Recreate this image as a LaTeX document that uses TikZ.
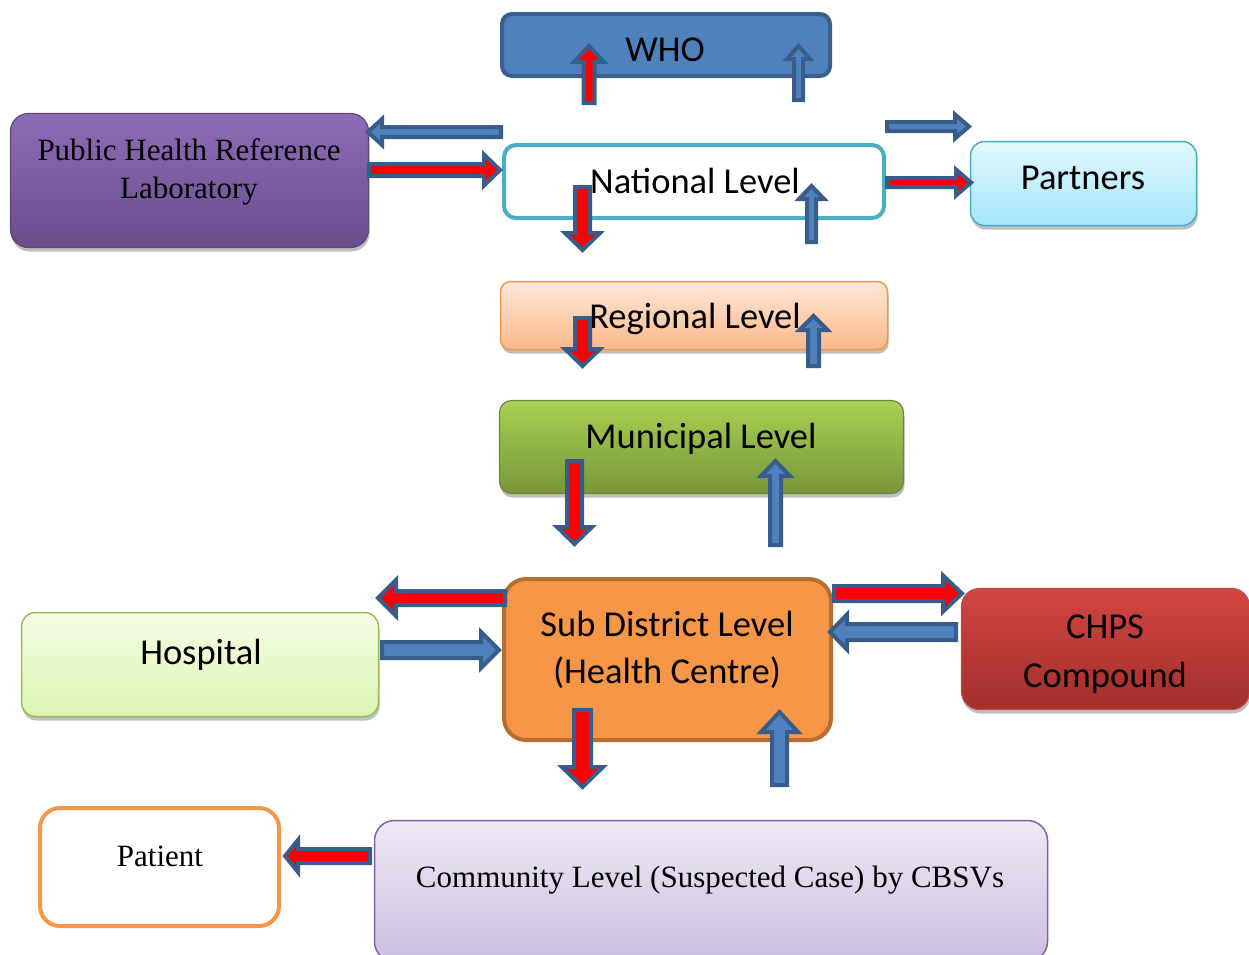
\documentclass[tikz,border=0pt]{standalone}
\usepackage{fontspec}
\setmainfont{Liberation Serif}
\newfontfamily\carl{Carlito}
\usetikzlibrary{calc,shadows}
\definecolor{arrowdark}{HTML}{385D8A}
\definecolor{arrowblue}{HTML}{4F81BD}
\definecolor{arrowred}{HTML}{FF0000}
\definecolor{whofill}{HTML}{4F81BD}
\definecolor{whoborder}{HTML}{3A5F8C}
\definecolor{purpletop}{HTML}{8D6DB8}
\definecolor{purplebot}{HTML}{6A4C8C}
\definecolor{purpleborder}{HTML}{5C4677}
\definecolor{natborder}{HTML}{4BACC6}
\definecolor{parttop}{HTML}{E2F8FD}
\definecolor{partbot}{HTML}{A3E7FA}
\definecolor{regtop}{HTML}{FFE7D8}
\definecolor{regbot}{HTML}{FBB98A}
\definecolor{orangeb}{HTML}{F79646}
\definecolor{muntop}{HTML}{A9D152}
\definecolor{munbot}{HTML}{77963A}
\definecolor{munborder}{HTML}{6E873C}
\definecolor{subborder}{HTML}{B66D31}
\definecolor{hosptop}{HTML}{F4FDE6}
\definecolor{hospbot}{HTML}{DBF4AF}
\definecolor{hospborder}{HTML}{9BBB59}
\definecolor{chpstop}{HTML}{D24541}
\definecolor{chpsbot}{HTML}{A12F2C}
\definecolor{chpsborder}{HTML}{BE4B48}
\definecolor{comtop}{HTML}{EEE9F5}
\definecolor{combot}{HTML}{CBBFE0}
\definecolor{comborder}{HTML}{8064A2}
\tikzset{
  box/.style={rounded corners=#1, inner sep=0pt, outer sep=0pt},
  shad/.style={drop shadow={shadow xshift=1pt, shadow yshift=-4pt, opacity=0.25, fill=black}},
  sanslbl/.style={anchor=base, inner sep=0pt, font=\carl\fontsize{36.5}{44}\selectfont},
  seriflbl/.style={anchor=base, inner sep=0pt, font=\fontsize{31}{37}\selectfont},
  barrow/.style={draw=arrowdark, line width=4pt, line join=miter, miter limit=10}
}
% #1 tail, #2 tip, #3 shaft half-width, #4 head half-width, #5 head length, #6 inner colour
\newcommand\blockarrow[6]{%
  \coordinate (bat) at (#1);
  \coordinate (bah) at (#2);
  \coordinate (bab) at ($(bah)!#5pt!(bat)$);
  \draw[barrow, fill=#6]
    ($(bat)!#3pt!90:(bah)$) -- ($(bab)!#3pt!90:(bah)$) -- ($(bab)!#4pt!90:(bah)$)
    -- (bah) -- ($(bab)!#4pt!-90:(bah)$) -- ($(bab)!#3pt!-90:(bah)$)
    -- ($(bat)!#3pt!-90:(bah)$) -- cycle;
}
\begin{document}
\begin{tikzpicture}[x=1pt, y=-1pt]
\useasboundingbox (0,0) rectangle (1249,954);
% boxes
\node[box=10pt, draw=whoborder, line width=4pt, fill=whofill, minimum width=328pt, minimum height=62pt] (who) at (666,45) {};
\node[box=18pt, shad, draw=purpleborder, line width=1.2pt, top color=purpletop, bottom color=purplebot, minimum width=358pt, minimum height=134pt] (phrl) at (189.5,180.5) {};
\node[box=12pt, draw=natborder, line width=4pt, fill=white, minimum width=380pt, minimum height=73pt] (nat) at (694,181.5) {};
\node[box=14pt, shad, draw=natborder, line width=1.5pt, top color=parttop, bottom color=partbot, minimum width=226pt, minimum height=84pt] (part) at (1083.5,183.5) {};
\node[box=10pt, shad, draw=orangeb, line width=1.5pt, top color=regtop, bottom color=regbot, minimum width=387pt, minimum height=68pt] (reg) at (694,315.5) {};
\node[box=12pt, shad, draw=munborder, line width=1.2pt, top color=muntop, bottom color=munbot, minimum width=404pt, minimum height=93pt] (mun) at (701.5,447) {};
\node[box=22pt, draw=subborder, line width=4pt, fill=orangeb, minimum width=327pt, minimum height=161pt] (sub) at (667.5,659.5) {};
\node[box=14pt, shad, draw=hospborder, line width=1.5pt, top color=hosptop, bottom color=hospbot, minimum width=357pt, minimum height=104pt] (hosp) at (200,664.5) {};
\node[box=18pt, shad, draw=chpsborder, line width=1.2pt, top color=chpstop, bottom color=chpsbot, minimum width=288pt, minimum height=121pt] (chps) at (1105.5,649) {};
\node[box=20pt, draw=orangeb, line width=4pt, fill=white, minimum width=239pt, minimum height=118pt] (pat) at (159.5,867) {};
\node[box=20pt, draw=comborder, line width=1.5pt, top color=comtop, bottom color=combot, minimum width=673pt, minimum height=141pt] (com) at (711,891) {};
% labels
\node[sanslbl] (whoT) at (665,61) {WHO};
\node[seriflbl] (phrlT1) at (189,160) {Public Health Reference};
\node[seriflbl] (phrlT2) at (189,198) {Laboratory};
\node[sanslbl] (natT) at (695,193) {National Level};
\node[sanslbl] (partT) at (1083,189) {Partners};
\node[sanslbl] (regT) at (695,328) {Regional Level};
\node[sanslbl] (munT) at (701,448) {Municipal Level};
\node[sanslbl] (subT1) at (667,636) {Sub District Level};
\node[sanslbl] (subT2) at (667,683) {(Health Centre)};
\node[sanslbl] (hospT) at (201,664) {Hospital};
\node[sanslbl] (chpsT1) at (1105,638) {CHPS};
\node[sanslbl] (chpsT2) at (1105,687) {Compound};
\node[seriflbl] (patT) at (160,866) {Patient};
\node[seriflbl] (comT) at (710,887) {Community Level (Suspected Case) by CBSVs};
% block arrows
\blockarrow{589,103}{589,46}{5.5}{15}{16}{arrowred}
\blockarrow{798.5,100}{798.5,46}{4.5}{11.5}{13}{arrowblue}
\blockarrow{501,132}{368,132}{5}{13}{14}{arrowblue}
\blockarrow{369,170}{500,170}{6}{15.5}{16}{arrowred}
\blockarrow{887,126.5}{969,126.5}{4.5}{12}{14}{arrowblue}
\blockarrow{887,182.5}{971,182.5}{4.5}{13}{15}{arrowred}
\blockarrow{582.5,187}{582.5,250}{7.5}{17.5}{17}{arrowred}
\blockarrow{811.5,242}{811.5,186}{4.5}{12.5}{13}{arrowblue}
\blockarrow{582.5,318}{582.5,366}{7.5}{17.5}{17}{arrowred}
\blockarrow{813.5,366}{813.5,316}{5.5}{14}{14}{arrowblue}
\blockarrow{574.5,461}{574.5,544}{7.5}{17.5}{17}{arrowred}
\blockarrow{775.5,545}{775.5,461}{5.5}{14.5}{15}{arrowblue}
\blockarrow{505,598}{378,598}{7}{18}{18}{arrowred}
\blockarrow{382,650}{499,650}{8}{18}{18}{arrowblue}
\blockarrow{834,593.5}{962,593.5}{7.5}{18}{19}{arrowred}
\blockarrow{956,632}{830,632}{8}{17.5}{17}{arrowblue}
\blockarrow{582.5,710}{582.5,787}{8.5}{20.5}{20}{arrowred}
\blockarrow{779.5,785}{779.5,712}{7.5}{18.5}{20}{arrowblue}
\blockarrow{370,856}{285,856}{7}{16}{13}{arrowred}
\end{tikzpicture}
\end{document}
